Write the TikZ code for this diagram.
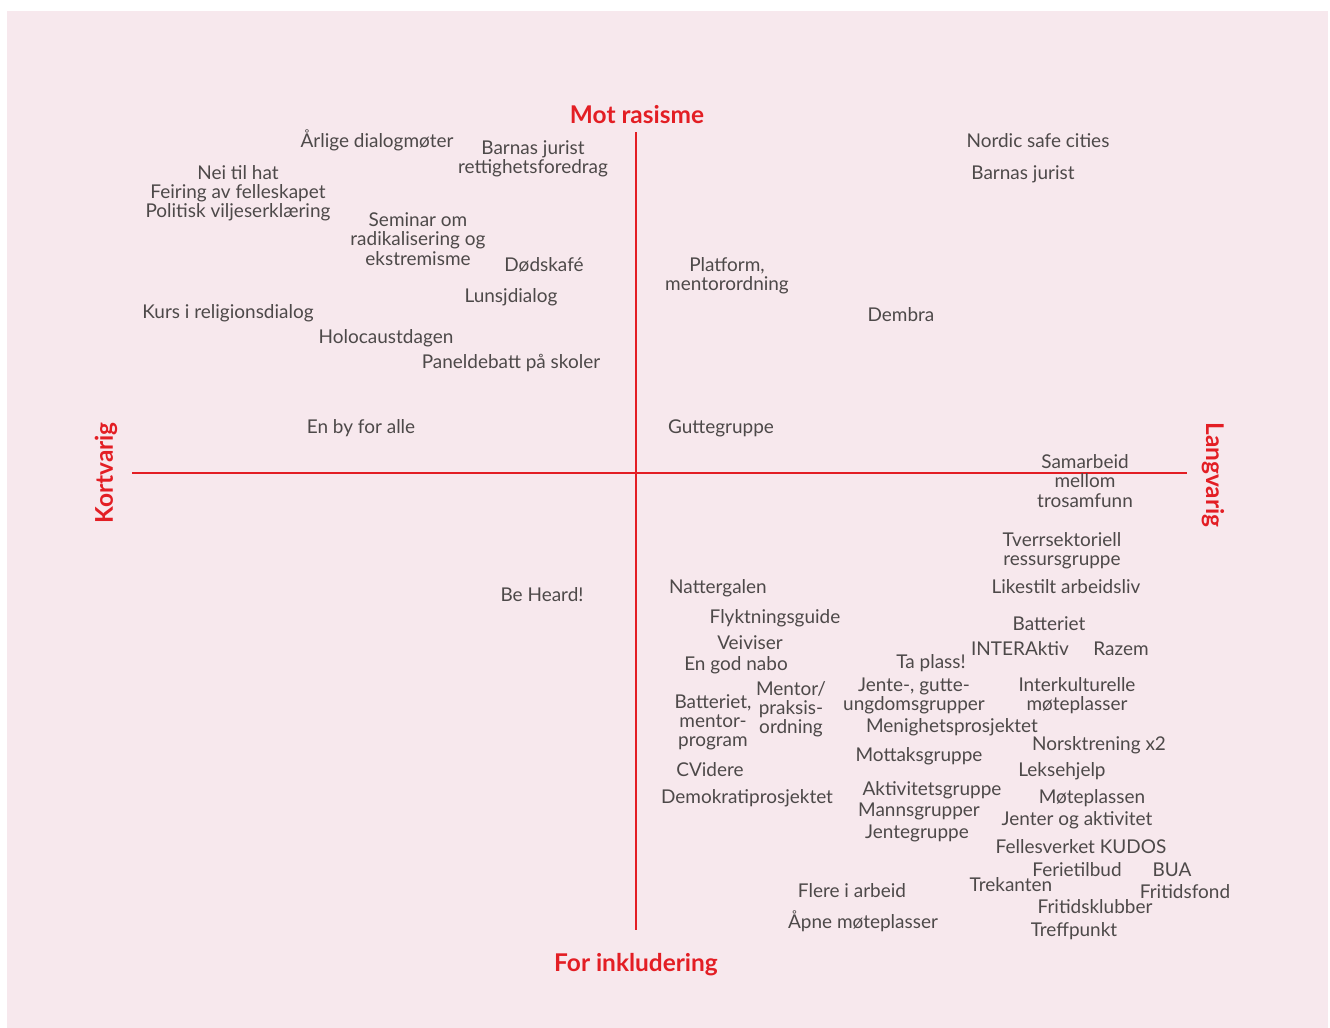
\documentclass[tikz,border=0pt]{standalone}
\usepackage{fontspec}
\setmainfont{Lato}
\usepackage{tikz}
\usetikzlibrary{positioning}
\usepackage{xcolor}
\definecolor{akse}{HTML}{E31E24}
\definecolor{bakgrunn}{HTML}{F7E8ED}
\definecolor{tekst}{HTML}{4D4949}

\begin{document}
\begin{tikzpicture} [x=0.02cm, y=-0.02cm,
    tiltak/.style={text=tekst,inner sep=0pt,font=\fontsize{10.8}{10.9}\selectfont,
      text height=1.45ex,text depth=0pt},
    flere/.style={text=tekst,inner sep=0pt,align=center,font=\fontsize{10.8}{10.9}\selectfont},
    akselabel/.style={text=akse,inner sep=0pt,font=\fontsize{13.9}{14}\selectfont\bfseries}
  ]
  \useasboundingbox (0,0) rectangle (1330,1028);
  \fill[bakgrunn] (7,11) rectangle (1328,1028);

  % akser
  \coordinate (topp) at (636,132);
  \coordinate (bunn) at (636,930);
  \coordinate (venstre) at (132,473);
  \coordinate (hoyre) at (1187,473);
  \draw[akse,line width=1.2pt] (topp) -- (bunn);
  \draw[akse,line width=1.2pt] (venstre) -- (hoyre);

  \node[akselabel] (mot) at (637,115) {Mot rasisme};
  \node[akselabel] (for) at (636,965) {For inkludering};
  \node[akselabel,rotate=90] (kort) at (106,473) {Kortvarig};
  \node[akselabel,rotate=-90] (lang) at (1213,475) {Langvarig};

  % oppe til venstre
  \node[tiltak] (arlige) at (377,141) {Årlige dialogmøter};
  \node[flere] (jurist1) at (533,159) {Barnas jurist\\rettighetsforedrag};
  \node[flere] (hat) at (238,193) {Nei til hat\\Feiring av felleskapet\\Politisk viljeserklæring};
  \node[flere] (seminar) at (418,239) {Seminar om\\radikalisering og\\ekstremisme};
  \node[tiltak] (dods) at (544,265) {Dødskafé};
  \node[tiltak] (lunsj) at (511,296) {Lunsjdialog};
  \node[tiltak] (kurs) at (228,312) {Kurs i religionsdialog};
  \node[tiltak] (holo) at (386,337) {Holocaustdagen};
  \node[tiltak] (panel) at (511,362) {Paneldebatt på skoler};
  \node[tiltak] (by) at (361,427) {En by for alle};

  % oppe til hoyre
  \node[tiltak] (nordic) at (1038,141) {Nordic safe cities};
  \node[tiltak] (jurist2) at (1023,173) {Barnas jurist};
  \node[flere] (platform) at (727,276) {Platform,\\mentorordning};
  \node[tiltak] (dembra) at (901,315) {Dembra};
  \node[tiltak] (gutte) at (721,427) {Guttegruppe};
  \node[flere] (samarbeid) at (1085,481) {Samarbeid\\mellom\\trosamfunn};

  % nede til venstre
  \node[tiltak] (heard) at (542,595) {Be Heard!};

  % nede til hoyre
  \node[flere] (tverr) at (1062,551) {Tverrsektoriell\\ressursgruppe};
  \node[tiltak] (likestilt) at (1066,587) {Likestilt arbeidsliv};
  \node[tiltak] (natt) at (718,587) {Nattergalen};
  \node[tiltak] (flykt) at (775,617) {Flyktningsguide};
  \node[tiltak] (batt) at (1049,624) {Batteriet};
  \node[tiltak] (veiviser) at (750,643) {Veiviser};
  \node[tiltak] (inter) at (1020,649) {INTERAktiv};
  \node[tiltak] (razem) at (1121,649) {Razem};
  \node[tiltak] (taplass) at (931,662) {Ta plass!};
  \node[tiltak] (nabo) at (736,664) {En god nabo};
  \node[flere] (mentor) at (791,709) {Mentor/\\praksis-\\ordning};
  \node[flere] (battmentor) at (713,722) {Batteriet,\\mentor-\\program};
  \node[flere] (jente) at (914,696) {Jente-, gutte-\\ungdomsgrupper};
  \node[flere] (interkult) at (1077,696) {Interkulturelle\\møteplasser};
  \node[tiltak] (menighet) at (952,726) {Menighetsprosjektet};
  \node[tiltak] (norsk) at (1099,744) {Norsktrening x2};
  \node[tiltak] (mottak) at (919,755) {Mottaksgruppe};
  \node[tiltak] (cv) at (710,770) {CVidere};
  \node[tiltak] (lekse) at (1062,770) {Leksehjelp};
  \node[tiltak] (aktivitet) at (932,789) {Aktivitetsgruppe};
  \node[tiltak] (demokrati) at (747,797) {Demokratiprosjektet};
  \node[tiltak] (moteplassen) at (1092,797) {Møteplassen};
  \node[tiltak] (manns) at (919,810) {Mannsgrupper};
  \node[tiltak] (jenter) at (1077,819) {Jenter og aktivitet};
  \node[tiltak] (jentegr) at (917,832) {Jentegruppe};
  \node[tiltak] (kudos) at (1081,847) {Fellesverket KUDOS};
  \node[tiltak] (ferie) at (1077,870) {Ferietilbud};
  \node[tiltak] (bua) at (1172,870) {BUA};
  \node[tiltak] (trekant) at (1011,885) {Trekanten};
  \node[tiltak] (arbeid) at (852,891) {Flere i arbeid};
  \node[tiltak] (fond) at (1185,892) {Fritidsfond};
  \node[tiltak] (klubb) at (1095,907) {Fritidsklubber};
  \node[tiltak] (apne) at (863,922) {Åpne møteplasser};
  \node[tiltak] (treff) at (1074,930) {Treffpunkt};
\end{tikzpicture}
\end{document}
